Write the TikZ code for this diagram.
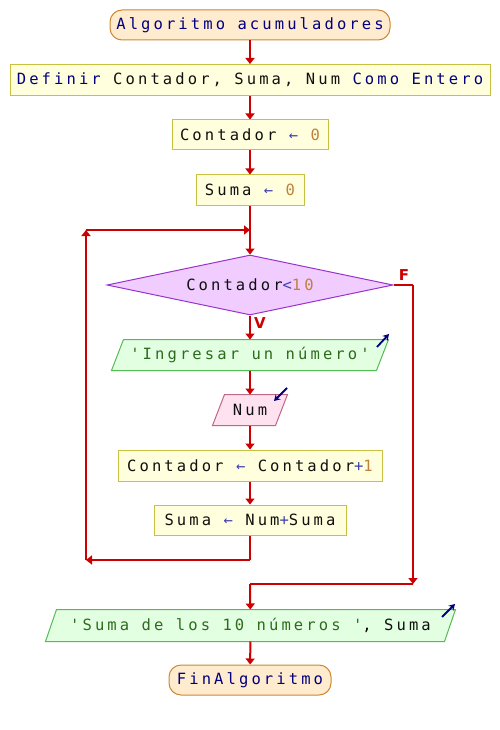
\documentclass[tikz,border=0pt]{standalone}
\usepackage{fontspec}
\newfontfamily\pmono[LetterSpace=20]{DejaVu Sans Mono}
\newfontfamily\plab{DejaVu Sans}
\usetikzlibrary{shapes.geometric,arrows.meta,backgrounds}
\definecolor{termfill}{HTML}{FFEBCD}
\definecolor{termdraw}{HTML}{CC8833}
\definecolor{procfill}{HTML}{FFFFDD}
\definecolor{procdraw}{HTML}{C8C040}
\definecolor{decfill}{HTML}{F0CCFF}
\definecolor{decdraw}{HTML}{9933CC}
\definecolor{outfill}{HTML}{E2FFE2}
\definecolor{outdraw}{HTML}{55BB55}
\definecolor{infill}{HTML}{FFE2F0}
\definecolor{indraw}{HTML}{C06688}
\definecolor{flowred}{HTML}{CC0000}
\definecolor{kwcol}{HTML}{000080}
\definecolor{varcol}{HTML}{101010}
\definecolor{opcol}{HTML}{4040B0}
\definecolor{numcol}{HTML}{C08040}
\definecolor{strcol}{HTML}{2E6B1E}
\definecolor{iconcol}{HTML}{000080}
\newcommand\kw[1]{\textcolor{kwcol}{#1}}
\newcommand\vr[1]{\textcolor{varcol}{#1}}
\newcommand\opr[1]{\textcolor{opcol}{#1}}
\newcommand\nmb[1]{\textcolor{numcol}{#1}}
\newcommand\strg[1]{\textcolor{strcol}{#1}}
\newcommand\paral[4]{%
  \begin{pgfonlayer}{background}
  \draw[fill=#3,draw=#4,line width=1pt]
    ([xshift=#2]#1.north west) -- ([xshift=#2]#1.north east) --
    ([xshift=-#2]#1.south east) -- ([xshift=-#2]#1.south west) -- cycle;
  \end{pgfonlayer}}
\begin{document}
\begin{tikzpicture}[x=1pt,y=-1pt,
  base/.style={font=\pmono\fontsize{15.5}{17}\selectfont, inner sep=0pt, line width=1pt},
  term/.style={base, rectangle, rounded corners=12pt, fill=termfill, draw=termdraw, minimum height=30pt},
  proc/.style={base, rectangle, fill=procfill, draw=procdraw, minimum height=30pt},
  dec/.style={base, diamond, aspect=4.77, fill=decfill, draw=decdraw, minimum width=286pt, minimum height=60pt},
  iobox/.style={base, rectangle, minimum height=30pt},
  flow/.style={draw=flowred, line width=2pt, -{Triangle[width=9pt,length=6pt]}},
  seg/.style={draw=flowred, line width=2pt},
  icon/.style={draw=iconcol, line width=1.8pt, -{Stealth[width=7pt,length=6pt]}},
  lab/.style={font=\plab\bfseries\fontsize{15}{17}\selectfont, text=flowred, inner sep=0pt}
]
\begin{pgfonlayer}{background}
\fill[white] (0,0) rectangle (500,730);
\end{pgfonlayer}
\useasboundingbox (0,0) rectangle (500,730);

\node[term, minimum width=280pt] (start) at (250,25) {\kw{Algoritmo acumuladores}};
\node[proc, minimum width=480pt, minimum height=31pt] (def) at (250,80)
  {\kw{Definir} \vr{Contador,} \vr{Suma,} \vr{Num} \kw{Como} \kw{Entero}};
\node[proc, minimum width=156pt] (c0) at (250,135) {\vr{Contador} \opr{←} \nmb{0}};
\node[proc, minimum width=108pt] (s0) at (250,190) {\vr{Suma} \opr{←} \nmb{0}};
\node[dec] (dia) at (250,285) {\vr{Contador}\opr{<}\nmb{10}};
\node[iobox, minimum width=264pt] (in1) at (250,355) {\strg{'Ingresar un número'}};
\paral{in1}{6pt}{outfill}{outdraw}
\node[iobox, minimum width=62pt] (num) at (250,410) {\vr{Num}};
\paral{num}{6pt}{infill}{indraw}
\node[proc, minimum width=264pt, minimum height=31pt] (c1) at (250,465.5) {\vr{Contador} \opr{←} \vr{Contador}\opr{+}\nmb{1}};
\node[proc, minimum width=192pt] (s1) at (250,520) {\vr{Suma} \opr{←} \vr{Num}\opr{+}\vr{Suma}};
\node[iobox, minimum width=398pt, minimum height=31pt] (out) at (250.5,625.5) {\strg{'Suma de los 10 números '}, \vr{Suma}};
\paral{out}{5.5pt}{outfill}{outdraw}
\node[term, minimum width=162pt] (fin) at (250,680) {\kw{FinAlgoritmo}};

\coordinate (jn) at (250,230);
\coordinate (lt) at (86,230);
\coordinate (lb) at (86,560);
\coordinate (sb) at (250,560);
\coordinate (fr) at (413,285);
\coordinate (fb) at (413,584);
\coordinate (mb) at (250,584);

\draw[flow] (start) -- (def);
\draw[flow] (def) -- (c0);
\draw[flow] (c0) -- (s0);
\draw[flow] (s0) -- (dia.north);
\draw[flow] (dia.south) -- (in1);
\draw[flow] (in1) -- (num);
\draw[flow] (num) -- (c1);
\draw[flow] (c1) -- (s1);
\draw[seg] (s1.south) -- (sb);
\draw[flow] (sb) -- (lb);
\draw[flow] (lb) -- (lt);
\draw[flow] (lt) -- (jn);
\draw[seg] (dia.east) -- (fr);
\draw[flow] (fr) -- (fb);
\draw[seg] (fb) -- (mb);
\draw[flow] (mb) -- (out);
\draw[flow] (out) -- (fin);

\node[lab] (lf) at (404,275) {F};
\node[lab] (lv) at (260,323) {V};

\coordinate (i1a) at (377,347); \coordinate (i1b) at (389,334);
\draw[icon] (i1a) -- (i1b);
\coordinate (i2a) at (287,388); \coordinate (i2b) at (274,401);
\draw[icon] (i2a) -- (i2b);
\coordinate (i3a) at (442,617); \coordinate (i3b) at (455,604);
\draw[icon] (i3a) -- (i3b);
\end{tikzpicture}
\end{document}
